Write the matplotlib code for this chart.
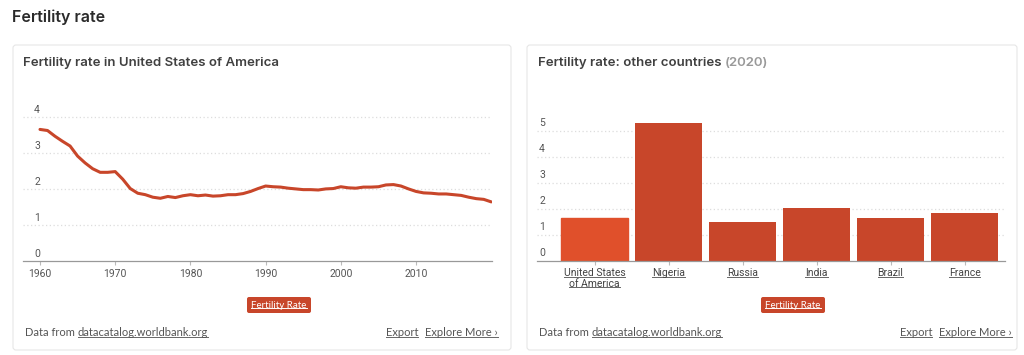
import matplotlib
matplotlib.use("Agg")
import matplotlib.pyplot as plt
import matplotlib.patches as mpatches
import matplotlib.transforms as mtransforms

# ── data ─────────────────────────────────────────────────────────────────────
years = list(range(1960, 2021))
us_fertility = [3.65, 3.62, 3.46, 3.32, 3.19, 2.91, 2.72, 2.56, 2.46, 2.46,
                2.48, 2.27, 2.01, 1.88, 1.84, 1.77, 1.74, 1.79, 1.76, 1.81,
                1.84, 1.81, 1.83, 1.80, 1.81, 1.84, 1.84, 1.87, 1.93, 2.01,
                2.08, 2.06, 2.05, 2.02, 2.00, 1.98, 1.98, 1.97, 2.00, 2.01,
                2.06, 2.03, 2.02, 2.05, 2.05, 2.06, 2.11, 2.12, 2.08, 2.00,
                1.93, 1.89, 1.88, 1.86, 1.86, 1.84, 1.82, 1.77, 1.73, 1.71,
                1.64]
year_ticks = [1960, 1970, 1980, 1990, 2000, 2010]
line_yticks = [0, 1, 2, 3, 4]

countries = ["United States\nof America", "Nigeria", "Russia", "India", "Brazil", "France"]
fertility_2020 = [1.64, 5.31, 1.50, 2.05, 1.65, 1.83]
bar_yticks = [0, 1, 2, 3, 4, 5]

RED = "#C8462A"
RED_HI = "#E0502B"
GRID = "#DDDDDD"
TICK = "#555555"

W, H = 1024, 355
fig = plt.figure(figsize=(W / 100, H / 100), dpi=100)
fig.patch.set_facecolor("white")

# background axes in pixel coordinates (y down)
bg = fig.add_axes([0, 0, 1, 1])
bg.set_xlim(0, W); bg.set_ylim(H, 0); bg.axis("off")

def px_axes(x0, y0, x1, y1):
    return fig.add_axes([x0 / W, 1 - y1 / H, (x1 - x0) / W, (y1 - y0) / H])

TITLE_FONT = ["Inter", "DejaVu Sans"]
BODY_FONT = ["Lato", "DejaVu Sans"]
TICK_FONT = ["Roboto", "DejaVu Sans"]

bg.text(12, 17, "Fertility rate", fontsize=11.5, fontweight="semibold",
        family=TITLE_FONT, color="#2a2a2a", va="center", ha="left")

# cards
for x0, x1 in [(13, 511), (527, 1017)]:
    bg.add_patch(mpatches.FancyBboxPatch((x0, 45), x1 - x0, 305,
                 boxstyle="round,pad=0,rounding_size=3",
                 lw=0.8, ec="#E6E6E6", fc="white"))

bg.text(23, 63, "Fertility rate in United States of America", fontsize=9.5,
        fontweight="semibold", family=TITLE_FONT, color="#404040", va="center")
t = bg.text(538, 63, "Fertility rate: other countries ", fontsize=9.5,
            fontweight="semibold", family=TITLE_FONT, color="#404040", va="center")

underlined = []

# ── line chart ───────────────────────────────────────────────────────────────
ax1 = px_axes(23, 106, 492, 261)
ax1.plot(years, us_fertility, color=RED, lw=2.2, solid_capstyle="round")
ax1.set_xlim(1957.74, 2020.1)
ax1.set_ylim(0, 4.3)
for v in line_yticks[1:]:
    ax1.axhline(v, color=GRID, lw=0.9, ls=(0, (1, 2)), zorder=0)
for s in ["top", "right", "left"]:
    ax1.spines[s].set_visible(False)
ax1.spines["bottom"].set_color("#999")
ax1.spines["bottom"].set_linewidth(0.9)
ax1.set_yticks([])
ax1.set_xticks(year_ticks)
ax1.set_xticklabels([str(y) for y in year_ticks], fontsize=7.5, color=TICK,
                    family=TICK_FONT)
ax1.tick_params(axis="x", length=3, color="#bbb", pad=3)
ax1.patch.set_alpha(0)
for v in line_yticks:
    ax1.text(1959.6, v + 0.2, str(v), fontsize=7.5, color=TICK, family=TICK_FONT,
             ha="center", va="center")

# ── bar chart ────────────────────────────────────────────────────────────────
ax2 = px_axes(537, 115.4, 1005, 261)
xs = list(range(len(countries)))
bars = ax2.bar(xs, fertility_2020, width=0.9, color=RED, zorder=2)
bars[0].set_color(RED_HI)
ax2.set_xlim(-0.777, 5.547)
ax2.set_ylim(0, 5.6)
for v in bar_yticks[1:]:
    ax2.axhline(v, color=GRID, lw=0.9, ls=(0, (1, 2)), zorder=0)
for s in ["top", "right", "left"]:
    ax2.spines[s].set_visible(False)
ax2.spines["bottom"].set_color("#999")
ax2.spines["bottom"].set_linewidth(0.9)
ax2.set_yticks([])
ax2.set_xticks(xs)
ax2.set_xticklabels([])
ax2.tick_params(axis="x", length=3, color="#bbb")
ax2.patch.set_alpha(0)
for v in bar_yticks:
    ax2.text(-0.71, v + 0.3, str(v), fontsize=7.5, color=TICK, family=TICK_FONT,
             ha="center", va="center")
for i, name in enumerate(countries):
    for j, part in enumerate(name.split("\n")):
        off = mtransforms.ScaledTranslation(0, -(7 + 10.6 * j) / 100, fig.dpi_scale_trans)
        lab = ax2.text(i, 0, part, transform=ax2.get_xaxis_transform() + off,
                       fontsize=7.5, color="#444", family=TICK_FONT, ha="center",
                       va="top")
        underlined.append(lab)

# ── legend badges & footers ──────────────────────────────────────────────────
for cx in (279, 793):
    bg.add_patch(mpatches.FancyBboxPatch((cx - 32, 297), 64, 16,
                 boxstyle="round,pad=0,rounding_size=2", lw=0, fc=RED))
    b = bg.text(cx, 305, "Fertility Rate", fontsize=7, color="white",
                family=BODY_FONT, ha="center", va="center")
    underlined.append((b, "white"))

for x0, x1 in [(25, 498), (539, 1012)]:
    d = bg.text(x0, 333, "Data from ", fontsize=8, color="#555",
                family=BODY_FONT, va="center")
    ex = bg.text(x1, 333, "Explore More \u203a", fontsize=8, color="#555",
                 family=BODY_FONT, va="center", ha="right")
    underlined.append(ex)
    fig.canvas.draw()
    r = fig.canvas.get_renderer()
    bb = d.get_window_extent(r)
    link = bg.text(bb.x1, 333, "datacatalog.worldbank.org", fontsize=8, color="#555",
                   family=BODY_FONT, va="center")
    underlined.append(link)
    bb = ex.get_window_extent(r)
    e = bg.text(bb.x0 - 7, 333, "Export", fontsize=8, color="#555",
                family=BODY_FONT, va="center", ha="right")
    underlined.append(e)

fig.canvas.draw()
r = fig.canvas.get_renderer()
bb = t.get_window_extent(r)
bg.text(bb.x1, 63, "(2020)", fontsize=9.5, fontweight="semibold",
        family=TITLE_FONT, color="#999", va="center")

# underline links
for item in underlined:
    if isinstance(item, tuple):
        txt, col = item
    else:
        txt, col = item, "#666"
    bb = txt.get_window_extent(r)
    yy = H - bb.y0 - 1.5
    bg.plot([bb.x0, bb.x1], [yy, yy], color=col, lw=0.7)

fig.savefig("out.png", dpi=100, facecolor="white")
